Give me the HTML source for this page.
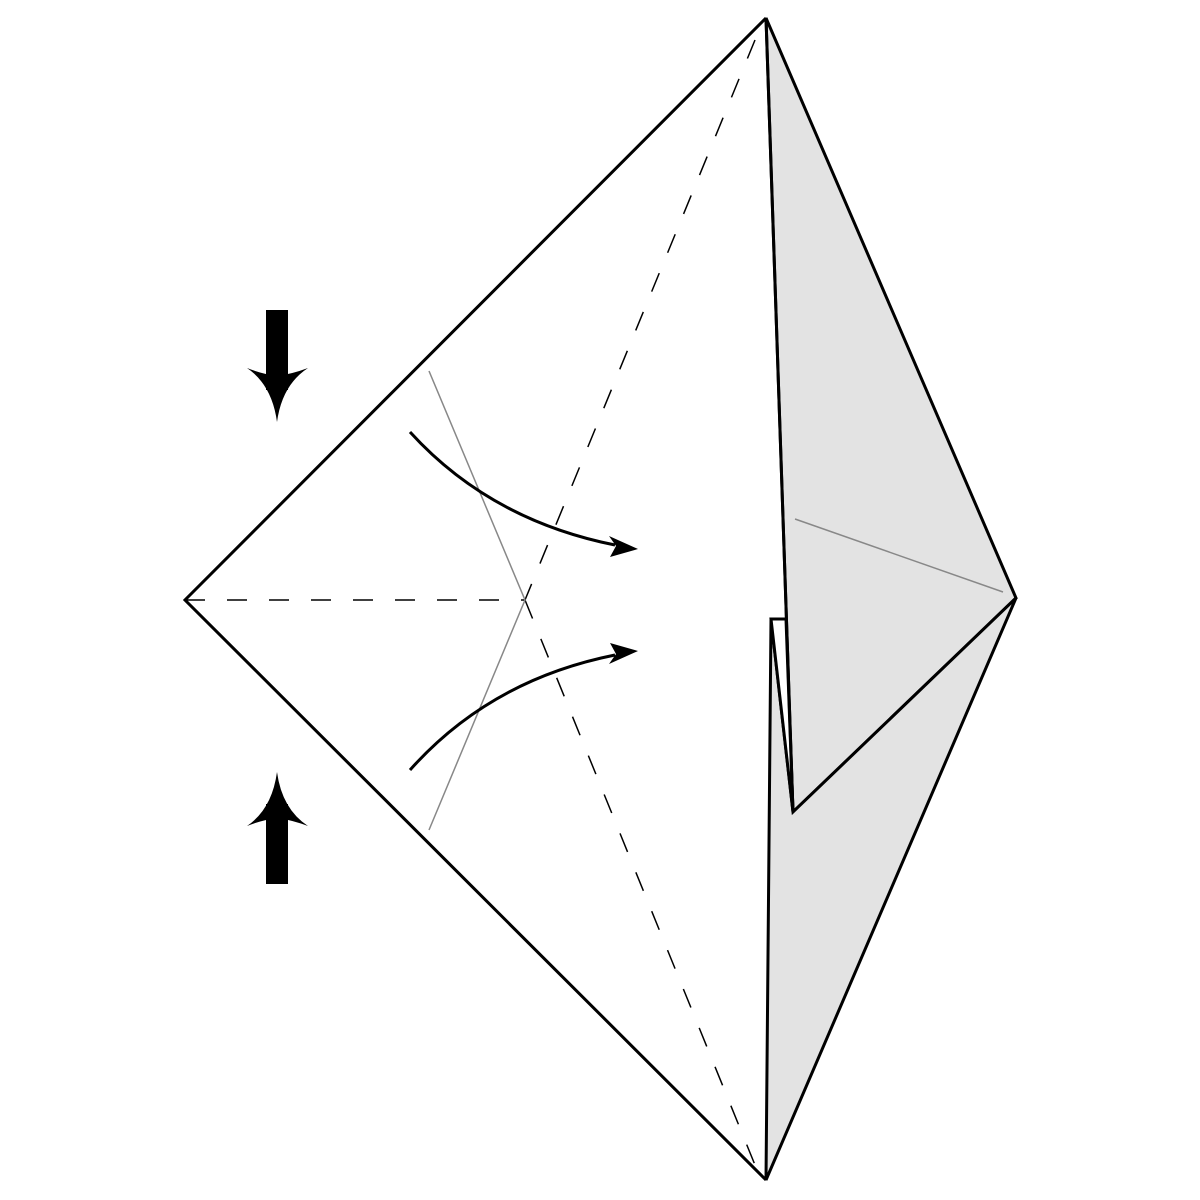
<!DOCTYPE html>
<html><head><meta charset="utf-8"><style>html,body{margin:0;padding:0;background:#fff}svg{display:block}</style></head>
<body>
<svg width="1200" height="1200" viewBox="0 0 1200 1200">
<rect x="0" y="0" width="1200" height="1200" fill="#fff"/>
<polygon points="766,18 1016,598 793,812" fill="#e3e3e3" stroke="#000" stroke-width="3" stroke-linejoin="miter"/>
<polygon points="771,619 793,812 1016,598 766,1180" fill="#e3e3e3" stroke="#000" stroke-width="3"/>
<polygon points="771,619 786,619 793,812" fill="#fff" stroke="#000" stroke-width="3"/>
<line x1="795" y1="519" x2="1003" y2="592" stroke="#888" stroke-width="1.5"/>
<polyline points="766,18 185,600 766,1180" fill="none" stroke="#000" stroke-width="3"/>
<line x1="766" y1="18" x2="793" y2="812" stroke="#000" stroke-width="3"/>
<g stroke="#000" stroke-width="1.5" stroke-dasharray="20,22" fill="none">
<line x1="185" y1="600" x2="525" y2="600"/>
<line x1="755" y1="40" x2="525" y2="600"/>
<line x1="525" y1="600" x2="755" y2="1165"/>
</g>
<polyline points="429,371 525,600 429,830" fill="none" stroke="#888" stroke-width="1.5"/>
<path d="M410,432 Q490,520 615,545" fill="none" stroke="#000" stroke-width="3"/>
<polygon points="638,549 609,536 616,546 610,557" fill="#000"/>
<path d="M410,770 Q490,680 615,655" fill="none" stroke="#000" stroke-width="3"/>
<polygon points="638,651 610,643 616,654 609,664" fill="#000"/>
<g fill="#000">
<rect x="266" y="310" width="22" height="80"/>
<path d="M247,368 Q272,385 277,422 Q282,385 308,368 Q292,374 277,376 Q262,374 247,368Z"/>
</g>
<g fill="#000">
<rect x="266" y="804" width="22" height="80"/>
<path d="M247,826 Q272,809 277,772 Q282,809 308,826 Q292,820 277,818 Q262,820 247,826Z"/>
</g>
</svg>
</body></html>
